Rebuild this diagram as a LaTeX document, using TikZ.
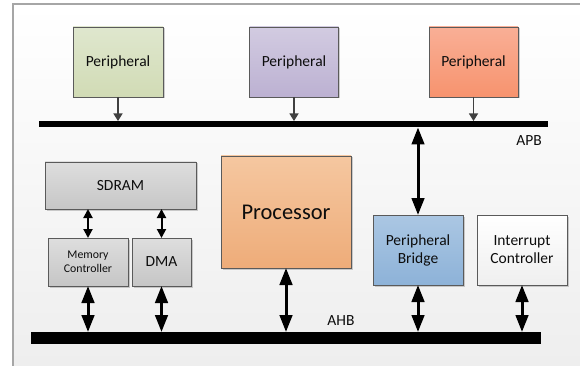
\documentclass[tikz,border=0pt]{standalone}
\usepackage{fontspec}
\setmainfont{Carlito}
\usetikzlibrary{arrows.meta,shadows}

\definecolor{edge}{HTML}{5A5A5A}
\definecolor{frameline}{HTML}{A6A6A6}
\definecolor{pgreenT}{HTML}{DFE7CE}
\definecolor{pgreenB}{HTML}{D1DBB5}
\definecolor{plilacT}{HTML}{D2CBE1}
\definecolor{plilacB}{HTML}{BCB1D2}
\definecolor{psalmT}{HTML}{F9AF96}
\definecolor{psalmB}{HTML}{F7936E}
\definecolor{procT}{HTML}{F5C7A0}
\definecolor{procB}{HTML}{EEAC79}
\definecolor{bridgeT}{HTML}{ABC7E3}
\definecolor{bridgeB}{HTML}{8DB2D8}
\definecolor{memT}{HTML}{DEDEDE}
\definecolor{memB}{HTML}{C6C6C6}
\definecolor{intT}{HTML}{FFFFFF}
\definecolor{intB}{HTML}{EFEFEF}
\definecolor{bgT}{HTML}{FFFFFF}
\definecolor{bgB}{HTML}{EEEEEE}
\definecolor{ink}{HTML}{0D0D0D}

\tikzset{
  box/.style={draw=edge, line width=0.8pt, inner sep=0pt, outer sep=0pt,
    align=center, text=ink, font=\fontsize{15.5}{18}\selectfont,
    drop shadow={shadow xshift=1.5pt, shadow yshift=-1.5pt, fill=black, opacity=0.18}},
  bus/.style={fill=black, draw=none, inner sep=0pt, outer sep=0pt},
  buslabel/.style={text=ink, font=\fontsize{15.5}{18}\selectfont, inner sep=0pt},
  feed/.style={draw=black!75, line width=1.2pt,
    -{Triangle[length=7.5pt, width=9pt]}},
  link/.style={draw=black, line width=2pt,
    {Triangle[length=9pt, width=9pt]}-{Triangle[length=9pt, width=9pt]}},
  wide/.style={draw=black, line width=3pt,
    {Triangle[length=17pt, width=12.5pt]}-{Triangle[length=17pt, width=12.5pt]}}
}

\begin{document}
\begin{tikzpicture}[x=1pt, y=-1pt]
\useasboundingbox (0,0) rectangle (580,366);

% backdrop panel with its left and top rule
\shade[top color=bgT, bottom color=bgB] (13,4) rectangle (580,366);
\draw[frameline, line width=1.6pt] (13,366) -- (13,4) -- (580,4);

% APB side
\node[box, top color=pgreenT, bottom color=pgreenB, minimum width=90, minimum height=70] (per1) at (118,62) {Peripheral};
\node[box, top color=plilacT, bottom color=plilacB, minimum width=89, minimum height=70] (per2) at (294,62) {Peripheral};
\node[box, top color=psalmT, bottom color=psalmB, minimum width=89, minimum height=70] (per3) at (473.5,62) {Peripheral};

\node[bus, minimum width=509, minimum height=6.5] (apb) at (293.5,124.25) {};
\node[buslabel] (apblbl) at (529,141) {APB};

% AHB side
\node[box, top color=memT, bottom color=memB, minimum width=151, minimum height=47] (sdram) at (120.5,185.5) {SDRAM};
\node[box, top color=memT, bottom color=memB, minimum width=80, minimum height=48,
      font=\fontsize{11.8}{14}\selectfont] (memctl) at (88,262) {Memory\\Controller};
\node[box, top color=memT, bottom color=memB, minimum width=59, minimum height=48] (dma) at (161.5,262) {DMA};
\node[box, top color=procT, bottom color=procB, minimum width=130, minimum height=112,
      font=\fontsize{22.5}{27}\selectfont] (proc) at (286,212) {Processor};
\node[box, top color=bridgeT, bottom color=bridgeB, minimum width=90, minimum height=70] (bridge) at (418,250) {Peripheral\\Bridge};
\node[box, top color=intT, bottom color=intB, minimum width=90, minimum height=70] (intc) at (522,250) {Interrupt\\Controller};

\node[bus, minimum width=510, minimum height=12] (ahb) at (286,338) {};
\node[buslabel] (ahblbl) at (341,321) {AHB};

% peripheral feeds onto the APB
\draw[feed] (per1.south) -- (per1.south |- apb.north);
\draw[feed] (per2.south) -- (per2.south |- apb.north);
\draw[feed] (per3.south) -- (per3.south |- apb.north);

% bridge between the two buses
\draw[wide] (bridge.north) -- (bridge.north |- apb.south);

% memory links
\draw[link] (memctl.north) -- (memctl.north |- sdram.south);
\draw[link] (dma.north) -- (dma.north |- sdram.south);

% AHB masters and slaves
\draw[wide] (memctl.south) -- (memctl.south |- ahb.north);
\draw[wide] (dma.south) -- (dma.south |- ahb.north);
\draw[wide] (proc.south) -- (proc.south |- ahb.north);
\draw[wide] (bridge.south) -- (bridge.south |- ahb.north);
\draw[wide] (intc.south) -- (intc.south |- ahb.north);
\end{tikzpicture}
\end{document}
